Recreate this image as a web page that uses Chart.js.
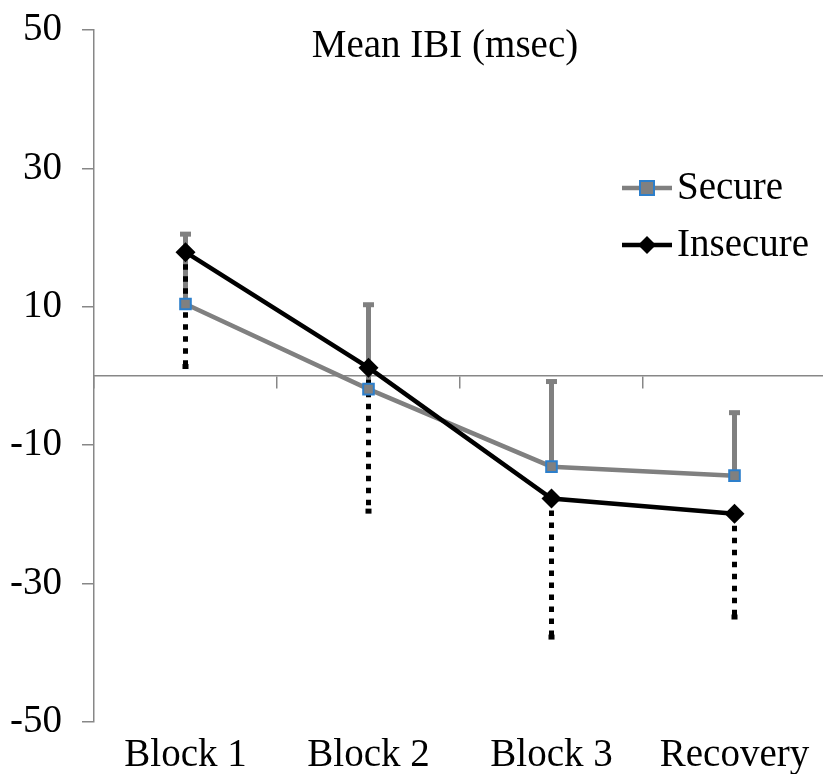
<!DOCTYPE html>
<html>
<head>
<meta charset="utf-8">
<script src="https://cdn.jsdelivr.net/npm/chart.js@4/dist/chart.umd.min.js"></script>
<style>
  html, body { margin: 0; padding: 0; background: #fff; width: 823px; height: 774px; overflow: hidden; }
  #wrap { position: relative; width: 826px; height: 774px; }
</style>
</head>
<body>
<div id="wrap"><canvas id="c" width="826" height="774"></canvas></div>
<script>
// Mean inter-beat interval change per block, by attachment group
const categories = ['Block 1', 'Block 2', 'Block 3', 'Recovery'];
const secureMeans = [10.4, -1.9, -13.1, -14.4];
const secureUpper = [20.5, 10.3, -0.8, -5.3];     // mean + error (drawn upward)
const insecureMeans = [17.9, 1.2, -17.7, -19.9];
const insecureLower = [1.3, -19.6, -37.8, -34.9]; // mean - error (drawn downward)
const yTicks = [-50, -30, -10, 10, 30, 50];
const titleText = 'Mean IBI (msec)';
const seriesNames = ['Secure', 'Insecure'];

const GRAY = '#808080';
const BLUE = '#2d7fcb';
const AXIS = '#878787';
const FONT = "'Liberation Serif', 'Times New Roman', serif";
const FS = 39;

// Error bars: solid gray caps for Secure, dotted black for Insecure
const errorBars = {
  id: 'errorBars',
  beforeDatasetsDraw(chart) {
    const ctx = chart.ctx, xs = chart.scales.x, ys = chart.scales.y;
    ctx.save();
    ctx.lineCap = 'butt';
    ctx.strokeStyle = GRAY;
    ctx.lineWidth = 5;
    secureUpper.forEach((v, i) => {
      const px = xs.getPixelForValue(i);
      const y0 = ys.getPixelForValue(secureMeans[i]);
      const y1 = ys.getPixelForValue(v);
      ctx.beginPath(); ctx.moveTo(px, y0); ctx.lineTo(px, y1); ctx.stroke();
      ctx.beginPath(); ctx.moveTo(px - 5.5, y1); ctx.lineTo(px + 5.5, y1); ctx.stroke();
    });
    ctx.strokeStyle = '#000';
    ctx.fillStyle = '#000';
    ctx.setLineDash([5.5, 6.5]);
    insecureLower.forEach((v, i) => {
      const px = xs.getPixelForValue(i);
      const y0 = ys.getPixelForValue(insecureMeans[i]);
      const y1 = ys.getPixelForValue(v);
      ctx.beginPath(); ctx.moveTo(px, y0); ctx.lineTo(px, y1); ctx.stroke();
      ctx.fillRect(px - 3, y1 - 3, 6, 5);
    });
    ctx.restore();
  }
};

// Title and legend placed inside the plot area
const overlay = {
  id: 'overlay',
  afterDraw(chart) {
    const ctx = chart.ctx;
    ctx.save();
    ctx.font = FS + 'px ' + FONT;
    ctx.fillStyle = '#000';
    ctx.textBaseline = 'middle';
    ctx.textAlign = 'center';
    ctx.fillText(titleText, 445, 47);

    ctx.textAlign = 'left';
    const rows = [188, 245];
    rows.forEach((ry, k) => {
      const ds = chart.data.datasets[k];
      ctx.strokeStyle = ds.borderColor;
      ctx.lineWidth = 4.5;
      ctx.beginPath(); ctx.moveTo(622, ry); ctx.lineTo(672, ry); ctx.stroke();
      if (k === 0) {
        ctx.fillStyle = GRAY;
        ctx.fillRect(640, ry - 7, 14, 14);
        ctx.strokeStyle = BLUE; ctx.lineWidth = 2;
        ctx.strokeRect(640, ry - 7, 14, 14);
      } else {
        ctx.fillStyle = '#000';
        ctx.beginPath();
        ctx.moveTo(647, ry - 9); ctx.lineTo(656, ry); ctx.lineTo(647, ry + 9); ctx.lineTo(638, ry);
        ctx.closePath(); ctx.fill();
      }
      ctx.fillStyle = '#000';
      ctx.fillText(seriesNames[k], 677, ry + 1);
    });
    ctx.restore();
  }
};

new Chart(document.getElementById('c'), {
  type: 'line',
  data: {
    labels: categories,
    datasets: [
      {
        label: seriesNames[0], data: secureMeans, order: 1,
        borderColor: GRAY, borderWidth: 4.5, tension: 0,
        pointStyle: 'rect', pointRadius: 7.5, pointBackgroundColor: GRAY,
        pointBorderColor: BLUE, pointBorderWidth: 2
      },
      {
        label: seriesNames[1], data: insecureMeans, order: 0,
        borderColor: '#000', borderWidth: 4.5, tension: 0,
        pointStyle: 'rectRot', pointRadius: 10, pointBackgroundColor: '#000',
        pointBorderColor: '#000', pointBorderWidth: 0
      }
    ]
  },
  options: {
    responsive: false,
    animation: false,
    devicePixelRatio: 1,
    layout: { autoPadding: false, padding: { top: 30, right: 0, left: 0, bottom: 0 } },
    plugins: { legend: { display: false }, title: { display: false }, tooltip: { enabled: false } },
    scales: {
      x: {
        type: 'category', position: 'bottom', offset: true,
        grid: { display: false, drawTicks: false },
        border: { display: false },
        ticks: { color: '#000', padding: 10, font: { family: FONT, size: FS }, maxRotation: 0, autoSkip: false },
        afterFit(s) { s.height = 52; s.paddingLeft = 0; s.paddingRight = 0; }
      },
      x0: {
        axis: 'x', type: 'category', labels: categories, offset: true,
        position: { y: 0 },
        ticks: { display: false },
        grid: { drawOnChartArea: false, drawTicks: true, tickLength: 12, color: AXIS, lineWidth: 1.5, offset: true },
        border: { color: AXIS, width: 1.5 },
        afterFit(s) { s.height = 0; s.paddingLeft = 0; s.paddingRight = 0; }
      },
      y: {
        min: -50, max: 50,
        ticks: { color: '#000', padding: 20, font: { family: FONT, size: FS } },
        afterBuildTicks(s) { s.ticks = yTicks.map(v => ({ value: v })); },
        grid: { drawOnChartArea: false, drawTicks: true, tickLength: 12, color: AXIS, lineWidth: 1.5 },
        border: { color: AXIS, width: 1.5 },
        afterFit(s) { s.width = 94; s.paddingTop = 0; s.paddingBottom = 0; }
      }
    }
  },
  plugins: [errorBars, overlay]
});
</script>
</body>
</html>
